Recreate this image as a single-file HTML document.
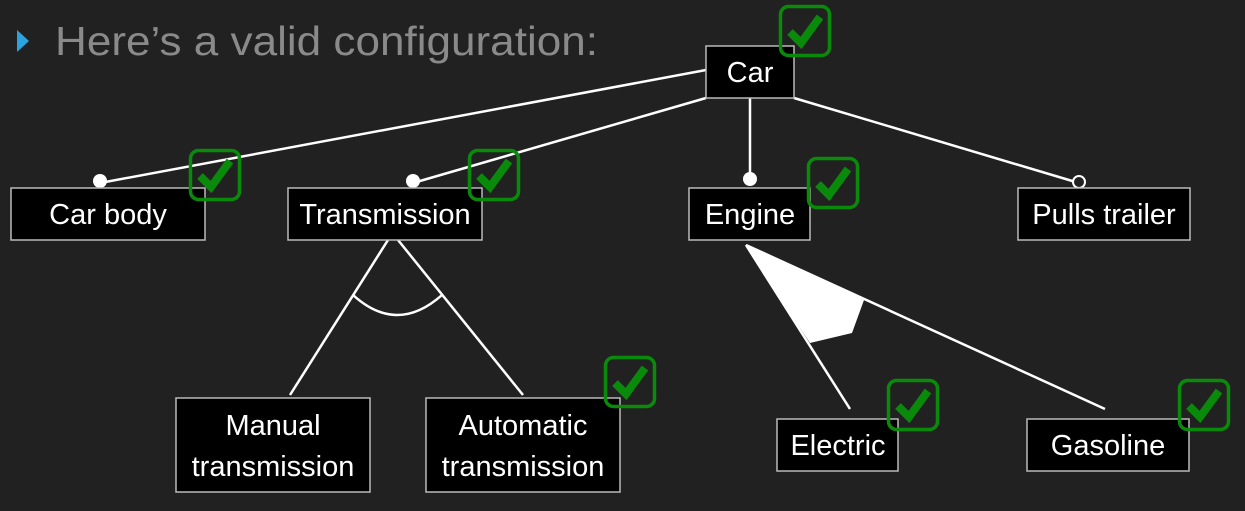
<!DOCTYPE html>
<html><head><style>
html,body{margin:0;padding:0;background:#212121;}
svg{display:block;}
text{font-family:"Liberation Sans",sans-serif;}
</style></head><body>
<svg width="1245" height="511" viewBox="0 0 1245 511" xmlns="http://www.w3.org/2000/svg">
<rect width="1245" height="511" fill="#212121"/>
<polygon points="17,30 17,52 29,41" fill="#2aa3e0"/>
<text x="55" y="55" font-size="41" fill="#8a8a8a" textLength="543" lengthAdjust="spacingAndGlyphs">Here’s a valid configuration:</text>
<g stroke="#fff" stroke-width="2.5" fill="none">
<line x1="706" y1="70" x2="100" y2="183"/>
<line x1="706" y1="98" x2="413" y2="183"/>
<line x1="750" y1="98" x2="750" y2="180"/>
<line x1="794" y1="98" x2="1079" y2="183"/>
<line x1="388" y1="240" x2="290" y2="395"/>
<line x1="398" y1="240" x2="523" y2="395"/>
<path d="M353,295 Q397,335 442,295"/>
<line x1="746" y1="245" x2="850" y2="409"/>
<line x1="746" y1="245" x2="1105" y2="409"/>
</g>
<polygon points="745,245 864,300 852,333 810,343" fill="#fff"/>
<circle cx="100" cy="181" r="7" fill="#fff"/>
<circle cx="413" cy="181" r="7" fill="#fff"/>
<circle cx="750" cy="179" r="7" fill="#fff"/>
<circle cx="1079" cy="182" r="6" fill="#212121" stroke="#fff" stroke-width="2"/>
<g stroke="#bbb" stroke-width="1.5" fill="#000">
<rect x="706" y="46" width="88" height="52"/>
<rect x="11" y="188" width="194" height="52"/>
<rect x="288" y="188" width="194" height="52"/>
<rect x="689" y="188" width="121" height="52"/>
<rect x="1018" y="188" width="172" height="52"/>
<rect x="176" y="398" width="194" height="94"/>
<rect x="426" y="398" width="194" height="94"/>
<rect x="777" y="419" width="121" height="52"/>
<rect x="1027" y="419" width="162" height="52"/>
</g>
<g fill="#fff" font-size="29" text-anchor="middle">
<text x="750" y="82">Car</text>
<text x="108" y="224">Car body</text>
<text x="385" y="224">Transmission</text>
<text x="750" y="224">Engine</text>
<text x="1104" y="224">Pulls trailer</text>
<text x="273" y="435">Manual</text>
<text x="273" y="476">transmission</text>
<text x="523" y="435">Automatic</text>
<text x="523" y="476">transmission</text>
<text x="838" y="455">Electric</text>
<text x="1108" y="455">Gasoline</text>
</g>
<defs>
<g id="ck">
<rect x="1.5" y="1.5" width="49" height="49" rx="8" fill="none" stroke="#0a8a0a" stroke-width="3.5"/>
<polyline points="11,27 22,38 41,12" fill="none" stroke="#0a8a0a" stroke-width="8"/>
</g>
</defs>
<use href="#ck" x="779" y="5"/>
<use href="#ck" x="189" y="149"/>
<use href="#ck" x="468" y="149"/>
<use href="#ck" x="807" y="157"/>
<use href="#ck" x="604" y="356"/>
<use href="#ck" x="887" y="379"/>
<use href="#ck" x="1178" y="379"/>
</svg>
</body></html>
